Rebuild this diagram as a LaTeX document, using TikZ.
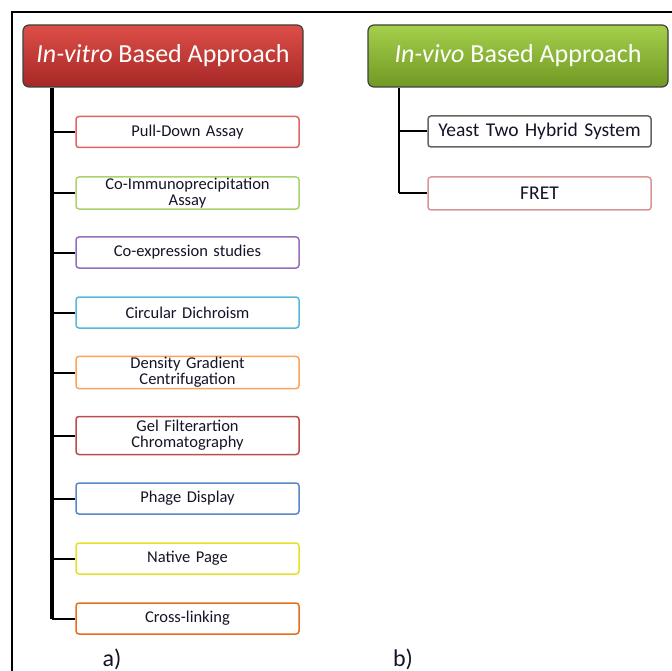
\documentclass[tikz,border=0pt]{standalone}
\usepackage{fontspec}
\setmainfont{Carlito}
\definecolor{hAtop}{RGB}{222,78,72}
\definecolor{hAmid}{RGB}{204,56,52}
\definecolor{hAbot}{RGB}{165,40,38}
\definecolor{hBtop}{RGB}{165,208,75}
\definecolor{hBmid}{RGB}{138,182,52}
\definecolor{hBbot}{RGB}{112,152,36}
\definecolor{c1}{RGB}{224,102,102}
\definecolor{c2}{RGB}{170,210,110}
\definecolor{c3}{RGB}{150,110,185}
\definecolor{c4}{RGB}{85,185,215}
\definecolor{c5}{RGB}{250,165,90}
\definecolor{c6}{RGB}{190,75,75}
\definecolor{c7}{RGB}{90,135,200}
\definecolor{c8}{RGB}{230,225,40}
\definecolor{c9}{RGB}{228,110,30}
\definecolor{d1}{RGB}{100,100,100}
\definecolor{d2}{RGB}{215,150,150}
\definecolor{txt}{RGB}{20,20,40}
\begin{document}
\begin{tikzpicture}[x=1pt,y=-1pt,
  hdr/.style={rounded corners=6pt,draw=black!75,line width=1.2pt,minimum width=#1,minimum height=62pt,inner sep=0pt,text=white,font=\fontsize{26}{28}\selectfont},
  item/.style={rounded corners=3pt,draw=#1,line width=1.5pt,fill=white,minimum width=223pt,minimum height=31pt,inner sep=1pt,align=center,text=txt,font=\fontsize{16.5}{16}\selectfont,text width=215pt},
  bigtext/.style={font=\fontsize{19.5}{20}\selectfont},
  trunk/.style={line width=3.5pt,black},
  trunk2/.style={line width=2pt,black},
  br/.style={line width=2pt,black},
  lbl/.style={text=txt,font=\fontsize{24}{26}\selectfont}]
\useasboundingbox (0,0) rectangle (672,671);
\draw[line width=1.5pt] (12,671) -- (12,12) -- (672,12);
% headers
\node[hdr=280pt,top color=hAtop,middle color=hAmid,bottom color=hAbot] (A) at (163,56) {\textit{In-vitro} Based Approach};
\node[hdr=300pt,top color=hBtop,middle color=hBmid,bottom color=hBbot] (B) at (518,56) {\textit{In-vivo} Based Approach};
% left items
\node[item=c1] (a1) at (187.5,132) {Pull-Down Assay};
\node[item=c2] (a2) at (187.5,193) {Co-Immunoprecipitation\\Assay};
\node[item=c3] (a3) at (187.5,252.5) {Co-expression studies};
\node[item=c4] (a4) at (187.5,312.5) {Circular Dichroism};
\node[item=c5] (a5) at (187.5,372.5) {Density Gradient\\Centrifugation};
\node[item=c6,minimum height=38pt] (a6) at (187.5,435.5) {Gel Filterartion\\Chromatography};
\node[item=c7] (a7) at (187.5,498.5) {Phage Display};
\node[item=c8] (a8) at (187.5,558.5) {Native Page};
\node[item=c9] (a9) at (187.5,618.5) {Cross-linking};
% right items
\node[item=d1,bigtext] (b1) at (539.5,131.5) {Yeast Two Hybrid System};
\node[item=d2,bigtext,minimum height=33pt] (b2) at (539.5,193.5) {FRET};
% connectors
\coordinate (ta) at (52,0);
\coordinate (tb) at (399,0);
\draw[trunk] (A.south -| ta) -- (a9.west -| ta);
\foreach \n in {a1,a2,a3,a4,a5,a6,a7,a8,a9} \draw[br] (\n.west -| ta) -- (\n.west);
\draw[trunk2] (B.south -| tb) -- (b2.west -| tb);
\foreach \n in {b1,b2} \draw[br] (\n.west -| tb) -- (\n.west);
% labels
\node[lbl] (la) at (112,659) {a)};
\node[lbl] (lb) at (403,659) {b)};
\end{tikzpicture}
\end{document}
